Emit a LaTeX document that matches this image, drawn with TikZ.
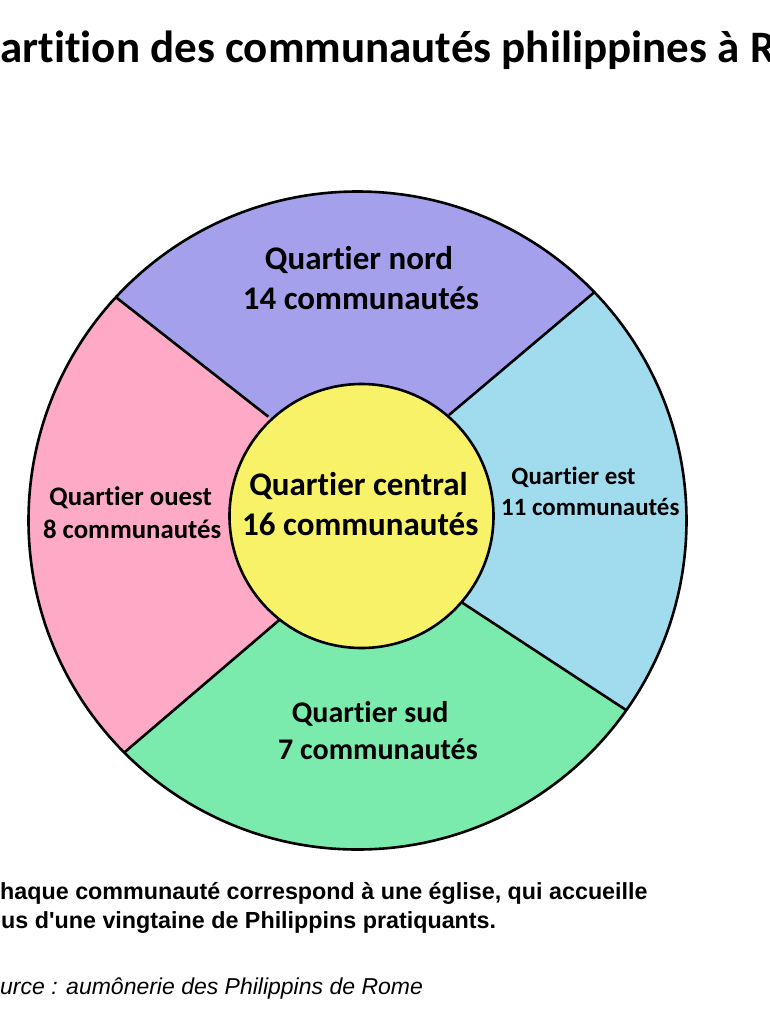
\documentclass[tikz,border=0pt]{standalone}
\usepackage{fontspec}
\setmainfont[RawFeature={-liga;-dlig;-clig}]{Carlito}
\newfontfamily\arialfont{Liberation Sans}
\definecolor{cnord}{HTML}{A4A0EC}
\definecolor{cest}{HTML}{A0DCEE}
\definecolor{csud}{HTML}{7AEBAC}
\definecolor{couest}{HTML}{FEAAC7}
\definecolor{ccentre}{HTML}{F7F267}
\begin{document}
\begin{tikzpicture}[x=1pt,y=-1pt,
  sepline/.style={line width=2.6pt},
  ring/.style={line width=2.6pt, draw=black},
  lbl/.style={inner sep=0pt, anchor=base, text=black, font=\bfseries},
  lblA/.style={lbl, font=\fontsize{33}{40}\selectfont\bfseries},
  lblS/.style={lbl, font=\fontsize{30}{36}\selectfont\bfseries},
  lblW/.style={lbl, font=\fontsize{26.8}{32}\selectfont\bfseries},
  lblE/.style={lbl, font=\fontsize{24.9}{30}\selectfont\bfseries},
  titre/.style={inner sep=0pt, anchor=base west, font=\fontsize{45}{54}\selectfont\bfseries},
  foot/.style={inner sep=0pt, anchor=base west, font=\arialfont\fontsize{23.3}{28}\selectfont\bfseries},
  src/.style={inner sep=0pt, anchor=base west, font=\arialfont\fontsize{23}{28}\selectfont\itshape}]
\useasboundingbox (0,0) rectangle (770,1020);
\clip (0,0) rectangle (770,1020);
\fill[white] (0,0) rectangle (770,1020);
\coordinate (O) at (357.5,520.5);
\coordinate (I) at (361.5,516);
\coordinate (nwi) at (268.3,416.7); \coordinate (nwo) at (116,297.3);
\coordinate (nei) at (449,415);     \coordinate (neo) at (594.3,292.3);
\coordinate (sei) at (460.7,601.7); \coordinate (seo) at (626,710);
\coordinate (swi) at (279.3,620);   \coordinate (swo) at (124,752.7);
\coordinate (nwx) at (-36,178);
\coordinate (nex) at (739,169);
\coordinate (sex) at (791,818);
\coordinate (swx) at (-31,886);
\begin{scope}
  \clip (O) circle[radius=329];
  \fill[cnord] (I) -- (nwi) -- (nwx) -- (-40,-100) -- (800,-100) -- (nex) -- (nei) -- cycle;
  \fill[cest] (I) -- (nei) -- (nex) -- (800,-100) -- (800,1100) -- (sex) -- (sei) -- cycle;
  \fill[csud] (I) -- (sei) -- (sex) -- (800,1100) -- (-40,1100) -- (swx) -- (swi) -- cycle;
  \fill[couest] (I) -- (swi) -- (swx) -- (-40,1100) -- (-40,-100) -- (nwx) -- (nwi) -- cycle;
\end{scope}
\draw[sepline] (nwi) -- (nwo);
\draw[sepline] (nei) -- (neo);
\draw[sepline] (sei) -- (seo);
\draw[sepline] (swi) -- (swo);
\draw[ring, fill=ccentre] (I) circle[radius=132];
\draw[ring] (O) circle[radius=329];

\node[lblA] (n1) at (359,269) {Quartier nord};
\node[lblA] (n2) at (361,309) {14 communautés};
\node[lblA] (c1) at (358.5,495.5) {Quartier central};
\node[lblA] (c2) at (360.3,535) {16 communautés};
\node[lblW] (w1) at (130.6,505.5) {Quartier ouest};
\node[lblW] (w2) at (132.2,538.5) {8 communautés};
\node[lblE] (e1) at (573.5,484.7) {Quartier est};
\node[lblE] (e2) at (590.3,515) {11 communautés};
\node[lblS] (s1) at (370.2,722.5) {Quartier sud};
\node[lblS] (s2) at (378,759.4) {7 communautés};

\node[titre] (t) at (0,62) {\llap{Rép}artition des communautés philippines à R\rlap{ome}};
\node[foot] (f1) at (0,899) {\llap{C}haque communauté correspond à une église, qui accueille};
\node[foot] (f2) at (1,928) {\llap{pl}us d'une vingtaine de Philippins pratiquants.};
\node[src] (f3) at (0,994) {\llap{So}urce : aumônerie des Philippins de Rome};
\end{tikzpicture}
\end{document}
